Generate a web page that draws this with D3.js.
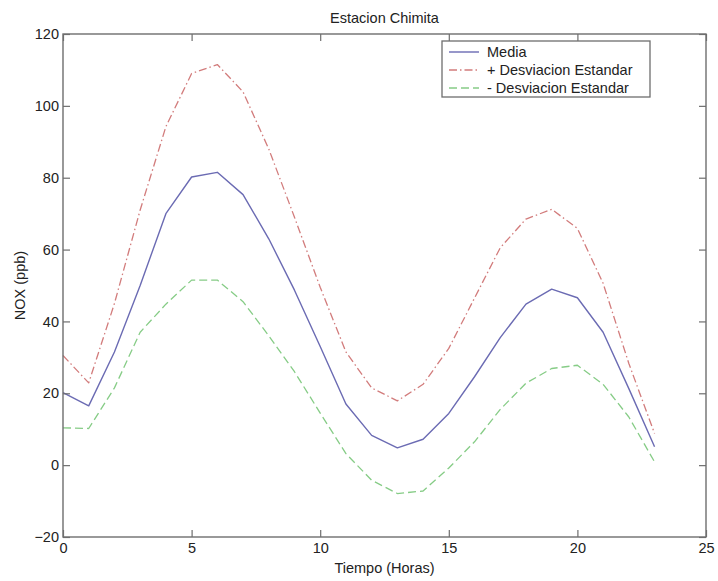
<!DOCTYPE html>
<html><head><meta charset="utf-8">
<script src="https://cdn.jsdelivr.net/npm/d3@7"></script>
<style>html,body{margin:0;padding:0;background:#fff;}svg{display:block;}</style>
</head><body>
<svg id="chart" width="718" height="581"></svg>
<script>
const hours = d3.range(0, 24);
const media = [20.2, 16.5, 31.5, 50, 70, 80.2, 81.5, 75.3, 63, 48.7, 33, 17, 8.3, 4.8, 7.2, 14.4, 24.6, 35.5, 44.8, 49, 46.6, 37, 21.3, 5.1];
const masDesv = [30.5, 22.9, 45, 71, 94.2, 109, 111.5, 103.9, 88, 69, 49.5, 31.5, 21.5, 17.9, 22.5, 32.5, 46.5, 60.5, 68.5, 71.2, 65.9, 50.6, 28.3, 8.8];
const menosDesv = [10.4, 10.2, 21.5, 37, 44.8, 51.5, 51.5, 45.5, 36, 26, 14.5, 3.2, -4.2, -7.9, -7.2, -0.8, 6.5, 15.5, 22.8, 26.9, 27.8, 22.5, 13.4, 0.9];
const xTicks = [0, 5, 10, 15, 20, 25];
const yTicks = [-20, 0, 20, 40, 60, 80, 100, 120];
const seriesNames = ["Media", "+ Desviacion Estandar", "- Desviacion Estandar"];
const titleText = "Estacion Chimita";
const xLabel = "Tiempo (Horas)";
const yLabel = "NOX (ppb)";

const svg = d3.select("#chart");
const L = 63, R = 706, T = 34, B = 537;
const x = d3.scaleLinear().domain([0, 25]).range([L, R]);
const y = d3.scaleLinear().domain([-20, 120]).range([B, T]);
const font = "Liberation Sans, Arial, Helvetica, sans-serif";
const axisColor = "#6e6e6e";
const tickLen = 7;

const styles = [
  {color: "#6b6bb3", dash: null, width: 1.4},
  {color: "#d27c7c", dash: "8,3,1.5,3", width: 1.3},
  {color: "#86cc86", dash: "8,4", width: 1.3}
];
const data = [media, masDesv, menosDesv];

// lines
const line = d3.line().x((d, i) => x(hours[i])).y(d => y(d));
data.forEach((s, k) => {
  svg.append("path").datum(s)
    .attr("d", line)
    .attr("fill", "none")
    .attr("stroke", styles[k].color)
    .attr("stroke-width", styles[k].width)
    .attr("stroke-dasharray", styles[k].dash)
    .attr("stroke-linejoin", "round");
});

// axes (matlab-like boxed with inward ticks)
const gAx = svg.append("g");
const xAxisB = d3.axisBottom(x).tickValues(xTicks).tickSize(-tickLen).tickPadding(6).tickFormat(d3.format("d"));
const xAxisT = d3.axisTop(x).tickValues(xTicks).tickSize(-tickLen).tickFormat("");
const yAxisL = d3.axisLeft(y).tickValues(yTicks).tickSize(-tickLen).tickPadding(4).tickFormat(d3.format("d"));
const yAxisR = d3.axisRight(y).tickValues(yTicks).tickSize(-tickLen).tickFormat("");

function styleAxis(g) {
  g.select(".domain").attr("stroke", axisColor).attr("stroke-width", 1.4);
  g.selectAll(".tick line").attr("stroke", axisColor).attr("stroke-width", 1.2);
  g.selectAll(".tick text").attr("fill", "#222").style("font-family", font).style("font-size", "14.5px");
}
gAx.append("g").attr("transform", `translate(0,${B})`).call(xAxisB).call(styleAxis);
gAx.append("g").attr("transform", `translate(0,${T})`).call(xAxisT).call(styleAxis);
gAx.append("g").attr("transform", `translate(${L},0)`).call(yAxisL).call(styleAxis);
gAx.append("g").attr("transform", `translate(${R},0)`).call(yAxisR).call(styleAxis);
gAx.selectAll(".domain").attr("d", null);
gAx.append("rect").attr("x", L).attr("y", T).attr("width", R - L).attr("height", B - T)
  .attr("fill", "none").attr("stroke", axisColor).attr("stroke-width", 1.4);

// title and labels
svg.append("text").attr("x", (L + R) / 2).attr("y", 23).attr("text-anchor", "middle")
  .style("font-family", font).style("font-size", "14.5px").attr("fill", "#222").text(titleText);
svg.append("text").attr("x", (L + R) / 2).attr("y", 573).attr("text-anchor", "middle")
  .style("font-family", font).style("font-size", "14.5px").attr("fill", "#222").text(xLabel);
svg.append("text").attr("transform", `translate(25,${(T + B) / 2}) rotate(-90)`).attr("text-anchor", "middle")
  .style("font-family", font).style("font-size", "14.5px").attr("fill", "#222").text(yLabel);

// legend
const lg = svg.append("g");
const lx = 442, ly = 41, lw = 208, lh = 56;
lg.append("rect").attr("x", lx).attr("y", ly).attr("width", lw).attr("height", lh)
  .attr("fill", "#fff").attr("stroke", axisColor).attr("stroke-width", 1.3);
seriesNames.forEach((name, k) => {
  const cy = ly + 11 + k * 18;
  lg.append("line").attr("x1", lx + 7).attr("x2", lx + 37).attr("y1", cy).attr("y2", cy)
    .attr("stroke", styles[k].color).attr("stroke-width", styles[k].width)
    .attr("stroke-dasharray", styles[k].dash);
  lg.append("text").attr("x", lx + 45).attr("y", cy + 5)
    .style("font-family", font).style("font-size", "14.5px").attr("fill", "#222").text(name);
});
</script>
</body></html>
